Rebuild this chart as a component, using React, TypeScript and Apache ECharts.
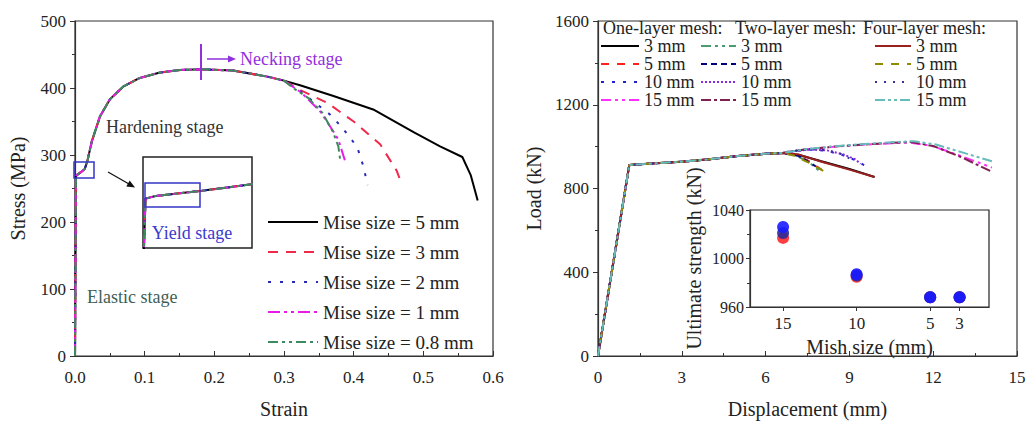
import React, { useEffect, useRef } from "react";
import * as echarts from "echarts";

const FONT = "'Liberation Serif','Times New Roman',serif";

// ---------- Left panel: stress–strain curves ----------
const leftXTicks = [0, 0.1, 0.2, 0.3, 0.4, 0.5, 0.6];
const leftYTicks = [0, 100, 200, 300, 400, 500];

// common elastic + hardening branch
const commonStrain = [0, 0.0013, 0.0025, 0.008, 0.014, 0.018, 0.024, 0.036, 0.05, 0.069, 0.093, 0.122, 0.151, 0.181, 0.227, 0.276, 0.3];
const commonStress = [0, 268, 270, 274, 279, 292, 320, 358, 383, 402, 415, 423, 427, 428, 426, 417, 411];

// softening branches
const mise5Strain = [0.323, 0.371, 0.428, 0.486, 0.524, 0.556, 0.568, 0.578];
const mise5Stress = [404, 388, 368, 334, 313, 297, 270, 232];
const mise3Strain = [0.323, 0.362, 0.4, 0.438, 0.462, 0.467];
const mise3Stress = [397, 378, 350, 316, 276, 262];
const mise2Strain = [0.325, 0.342, 0.369, 0.388, 0.405, 0.414, 0.42];
const mise2Stress = [394, 380, 358, 335, 312, 283, 255];
const mise1Strain = [0.325, 0.352, 0.366, 0.378, 0.388];
const mise1Stress = [393, 365, 343, 323, 290];
const mise08Strain = [0.313, 0.335, 0.355, 0.37, 0.378, 0.381];
const mise08Stress = [400, 385, 363, 335, 313, 290];

const leftNames = ["Mise size = 5 mm", "Mise size = 3 mm", "Mise size = 2 mm", "Mise size = 1 mm", "Mise size = 0.8 mm"];

// ---------- Right panel: load–displacement ----------
const rightXTicks = [0, 3, 6, 9, 12, 15];
const rightYTicks = [0, 400, 800, 1200, 1600];

const commonDisp = [0, 1.12, 2, 3, 4, 5, 6, 6.6];
const commonLoad = [0, 912, 920, 928, 940, 955, 966, 970];

const one3Disp = [7.2, 8, 9, 9.9];
const one3Load = [960, 930, 893, 855];
const one5Disp = [7.0, 7.5, 8.0];
const one5Load = [962, 935, 890];
const one10Disp = [7.0, 7.6, 8.2, 8.8, 9.3, 9.6];
const one10Load = [979, 985, 980, 958, 930, 905];
const one15Disp = [7.5, 8.5, 9.5, 10.5, 11.2, 12, 13, 14.1];
const one15Load = [988, 1000, 1009, 1016, 1019, 1002, 955, 900];

const two3Disp = [7.1, 7.6, 8.0];
const two3Load = [958, 920, 876];
const two5Disp = [7.2, 7.8];
const two5Load = [955, 905];
const two10Disp = [7.0, 7.6, 8.2, 8.8, 9.2, 9.4];
const two10Load = [979, 986, 982, 962, 940, 918];
const two15Disp = [7.5, 8.5, 9.5, 10.5, 11.2, 12, 13, 14.1];
const two15Load = [988, 1001, 1010, 1018, 1022, 1003, 950, 880];

const four3Disp = [7.2, 8, 9, 9.9];
const four3Load = [962, 928, 890, 855];
const four5Disp = [7.0, 7.6, 8.1];
const four5Load = [958, 920, 882];
const four10Disp = [7.0, 7.6, 8.2, 8.7, 9.2];
const four10Load = [980, 987, 983, 965, 930];
const four15Disp = [7.5, 8.5, 9.5, 10.5, 11.3, 12.1, 13.1, 14.1];
const four15Load = [989, 1002, 1012, 1021, 1026, 1010, 970, 930];

// inset: ultimate strength vs mesh size
const meshSizes = [15, 10, 5, 3];
const ultOne = [1017, 985, 968, 968];
const ultTwo = [1021, 986, 968, 968];
const ultFour = [1026, 987, 968, 968];
const insetYTicks = [960, 1000, 1040];

const legendHeaders = ["One-layer mesh:", "Two-layer mesh:", "Four-layer mesh:"];

function join(xa: number[], ya: number[], xb: number[], yb: number[]) {
  const out: number[][] = [];
  xa.forEach((x, i) => out.push([x, ya[i]]));
  xb.forEach((x, i) => out.push([x, yb[i]]));
  return out;
}

const leftDefs = [
  { name: leftNames[0], sx: mise5Strain, sy: mise5Stress, color: "#000000", dash: "solid" as any },
  { name: leftNames[1], sx: mise3Strain, sy: mise3Stress, color: "#f0284a", dash: [10, 8] },
  { name: leftNames[2], sx: mise2Strain, sy: mise2Stress, color: "#2a2ab8", dash: [3, 9] },
  { name: leftNames[3], sx: mise1Strain, sy: mise1Stress, color: "#e81ce8", dash: [12, 4, 3, 4, 3, 4] },
  { name: leftNames[4], sx: mise08Strain, sy: mise08Stress, color: "#3d8a5e", dash: [10, 4, 3, 4, 3, 4] },
];

const rightDefs = [
  { name: "One|3 mm", x: one3Disp, y: one3Load, color: "#000000", dash: "solid" as any },
  { name: "One|5 mm", x: one5Disp, y: one5Load, color: "#ff2020", dash: [8, 8] },
  { name: "One|10 mm", x: one10Disp, y: one10Load, color: "#2020d0", dash: [3, 8] },
  { name: "One|15 mm", x: one15Disp, y: one15Load, color: "#ff30ff", dash: [10, 4, 3, 4, 3, 4] },
  { name: "Two|3 mm", x: two3Disp, y: two3Load, color: "#4c9a6e", dash: [10, 4, 3, 4, 3, 4] },
  { name: "Two|5 mm", x: two5Disp, y: two5Load, color: "#000080", dash: [6, 4] },
  { name: "Two|10 mm", x: two10Disp, y: two10Load, color: "#8a2be2", dash: [2, 2] },
  { name: "Two|15 mm", x: two15Disp, y: two15Load, color: "#802050", dash: [10, 3, 3, 3] },
  { name: "Four|3 mm", x: four3Disp, y: four3Load, color: "#9b2020", dash: "solid" as any },
  { name: "Four|5 mm", x: four5Disp, y: four5Load, color: "#8c8c00", dash: [8, 8] },
  { name: "Four|10 mm", x: four10Disp, y: four10Load, color: "#333399", dash: [2, 7] },
  { name: "Four|15 mm", x: four15Disp, y: four15Load, color: "#66bbbb", dash: [10, 3, 3, 3, 3, 3] },
];

const axisColor = "#333";
const tickFont = { fontFamily: FONT, fontSize: 17, color: "#222" };
const nameFont = { fontFamily: FONT, fontSize: 20, color: "#222" };
const plain = (v: number) => String(v);

function baseAxis(extra: any) {
  return {
    type: "value",
    splitLine: { show: false },
    axisLine: { show: true, onZero: false, lineStyle: { color: axisColor, width: 1.2 } },
    nameTextStyle: nameFont,
    ...extra,
  };
}

export default function App() {
  const ref = useRef<HTMLDivElement>(null);
  useEffect(() => {
    if (!ref.current) return;
    const chart = echarts.init(ref.current, undefined, { renderer: "svg" });

    const series: any[] = [];
    leftDefs.forEach((d) => {
      const data = join(commonStrain, commonStress, d.sx, d.sy);
      series.push({
        name: d.name, type: "line", xAxisIndex: 0, yAxisIndex: 0, data, symbol: "none",
        lineStyle: { color: d.color, width: 2, type: d.dash }, itemStyle: { color: d.color },
      });
      series.push({
        name: d.name, type: "line", xAxisIndex: 1, yAxisIndex: 1, data, symbol: "none", clip: true,
        lineStyle: { color: d.color, width: 2, type: d.dash }, itemStyle: { color: d.color },
      });
    });
    rightDefs.forEach((d) => {
      series.push({
        name: d.name, type: "line", xAxisIndex: 2, yAxisIndex: 2,
        data: join(commonDisp, commonLoad, d.x, d.y), symbol: "none",
        lineStyle: { color: d.color, width: 2, type: d.dash }, itemStyle: { color: d.color },
      });
    });
    const ultDefs = [
      { name: "ult-one", vals: ultOne, color: "#ff2a2a" },
      { name: "ult-two", vals: ultTwo, color: "#2a2a9a" },
      { name: "ult-four", vals: ultFour, color: "#1a1aff" },
    ];
    ultDefs.forEach((d) => {
      series.push({
        name: d.name, type: "scatter", xAxisIndex: 3, yAxisIndex: 3,
        data: meshSizes.map((m, i) => [m, d.vals[i]]), symbol: "circle", symbolSize: 12,
        itemStyle: { color: d.color, opacity: 0.9 },
      });
    });

    const legendText = { fontFamily: FONT, fontSize: 18, color: "#222", lineHeight: 15 };
    const rightLegend = (prefix: string, left: number, itemWidth: number) => ({
      data: rightDefs.filter((d) => d.name.startsWith(prefix + "|")).map((d) => d.name),
      formatter: (n: string) => n.split("|")[1],
      left, top: 37, orient: "vertical", itemWidth, itemHeight: 15, itemGap: 0, padding: 0,
      selectedMode: false, textStyle: legendText, itemStyle: { opacity: 0 },
    });

    const purple = "#9130dc";
    const option: any = {
      animation: false,
      backgroundColor: "#fff",
      grid: [
        { left: 75, top: 21, width: 418, height: 337, show: true, borderColor: axisColor, borderWidth: 1.2 },
        { left: 143, top: 157, width: 109, height: 91, show: true, borderColor: "#222", borderWidth: 1.5, backgroundColor: "#fff" },
        { left: 598, top: 21, width: 419, height: 337, show: true, borderColor: axisColor, borderWidth: 1.2 },
        { left: 750, top: 210, width: 239, height: 97, show: true, borderColor: "#222", borderWidth: 1.2, backgroundColor: "#fff" },
      ],
      xAxis: [
        baseAxis({
          gridIndex: 0, min: leftXTicks[0], max: leftXTicks[leftXTicks.length - 1], interval: 0.1,
          name: "Strain", nameLocation: "middle", nameGap: 43,
          axisTick: { inside: true, length: 5 }, minorTick: { show: true, splitNumber: 2, length: 3 },
          axisLabel: { ...tickFont, margin: 13, formatter: (v: number) => v.toFixed(1) },
        }),
        baseAxis({ gridIndex: 1, min: 0.001, max: 0.014, show: false }),
        baseAxis({
          gridIndex: 2, min: rightXTicks[0], max: rightXTicks[rightXTicks.length - 1], interval: 3,
          name: "Displacement (mm)", nameLocation: "middle", nameGap: 43,
          axisTick: { inside: true, length: 5 }, minorTick: { show: true, splitNumber: 2, length: 3 },
          axisLabel: { ...tickFont, margin: 13, formatter: plain },
        }),
        baseAxis({
          gridIndex: 3, min: 1, max: 17.25, inverse: true,
          name: "Mish size (mm)", nameLocation: "middle", nameGap: 30,
          axisTick: { show: true, inside: false, length: 4, customValues: meshSizes },
          axisLabel: { ...tickFont, margin: 8, customValues: meshSizes, formatter: plain },
        }),
      ],
      yAxis: [
        baseAxis({
          gridIndex: 0, min: leftYTicks[0], max: leftYTicks[leftYTicks.length - 1], interval: 100,
          name: "Stress (MPa)", nameLocation: "middle", nameGap: 47,
          axisTick: { inside: false, length: 5 }, minorTick: { show: true, splitNumber: 2, length: 3 },
          axisLabel: { ...tickFont, margin: 9, formatter: plain },
        }),
        baseAxis({ gridIndex: 1, min: 230, max: 300, show: false }),
        baseAxis({
          gridIndex: 2, min: rightYTicks[0], max: rightYTicks[rightYTicks.length - 1], interval: 400,
          name: "Load (kN)", nameLocation: "middle", nameGap: 54,
          axisTick: { inside: false, length: 5 }, minorTick: { show: true, splitNumber: 2, length: 3 },
          axisLabel: { ...tickFont, margin: 9, formatter: plain },
        }),
        baseAxis({
          gridIndex: 3, min: insetYTicks[0], max: insetYTicks[insetYTicks.length - 1], interval: 40,
          name: "Ultimate strength (kN)", nameLocation: "middle", nameGap: 46,
          axisTick: { inside: false, length: 4 }, minorTick: { show: true, splitNumber: 2, length: 3 },
          axisLabel: { ...tickFont, fontSize: 16, margin: 6, formatter: plain },
        }),
      ],
      legend: [
        {
          data: leftNames, left: 267, top: 212, orient: "vertical", itemWidth: 50, itemHeight: 20,
          itemGap: 10, padding: 0, selectedMode: false, itemStyle: { opacity: 0 },
          textStyle: { fontFamily: FONT, fontSize: 19, color: "#222", lineHeight: 20 },
        },
        rightLegend("One", 600, 38),
        rightLegend("Two", 700, 35),
        rightLegend("Four", 874, 36),
      ],
      graphic: [
        // necking marker
        { type: "line", z: 50, shape: { x1: 201, y1: 44, x2: 201, y2: 80 }, style: { stroke: purple, lineWidth: 2 } },
        { type: "line", z: 50, shape: { x1: 207, y1: 59, x2: 229, y2: 59 }, style: { stroke: purple, lineWidth: 1.5 } },
        { type: "polygon", z: 50, shape: { points: [[228, 55.5], [236, 59], [228, 62.5]] }, style: { fill: purple } },
        { type: "text", z: 50, x: 240, y: 59, style: { text: "Necking stage", fill: purple, font: `18px ${FONT}`, verticalAlign: "middle" } },
        { type: "text", z: 50, x: 106, y: 127, style: { text: "Hardening stage", fill: "#333", font: `18px ${FONT}`, verticalAlign: "middle" } },
        { type: "text", z: 50, x: 87, y: 297, style: { text: "Elastic stage", fill: "#3f5f55", font: `18px ${FONT}`, verticalAlign: "middle" } },
        // yield detail
        { type: "rect", z: 50, shape: { x: 74, y: 162, width: 20, height: 16 }, style: { fill: "none", stroke: "#3535c8", lineWidth: 1.5 } },
        { type: "line", z: 50, shape: { x1: 108, y1: 172, x2: 129, y2: 184 }, style: { stroke: "#111", lineWidth: 1.2 } },
        { type: "polygon", z: 50, shape: { points: [[135, 187.5], [126.3, 186.5], [129.7, 180.5]] }, style: { fill: "#111" } },
        { type: "rect", z: 50, shape: { x: 145, y: 183, width: 55, height: 24 }, style: { fill: "none", stroke: "#3535c8", lineWidth: 1.5 } },
        { type: "text", z: 50, x: 192, y: 233, style: { text: "Yield stage", fill: "#3a3acc", font: `18px ${FONT}`, align: "center", verticalAlign: "middle" } },
        // right legend headers
        { type: "text", z: 50, x: 603, y: 28, style: { text: legendHeaders[0], fill: "#222", font: `18px ${FONT}`, verticalAlign: "middle" } },
        { type: "text", z: 50, x: 735, y: 28, style: { text: legendHeaders[1], fill: "#222", font: `18px ${FONT}`, verticalAlign: "middle" } },
        { type: "text", z: 50, x: 863, y: 28, style: { text: legendHeaders[2], fill: "#222", font: `18px ${FONT}`, verticalAlign: "middle" } },
      ],
      series,
    };
    chart.setOption(option);
    return () => chart.dispose();
  }, []);
  return <div ref={ref} style={{ position: "fixed", left: 0, top: 0, width: 1029, height: 424, background: "#fff" }} />;
}
